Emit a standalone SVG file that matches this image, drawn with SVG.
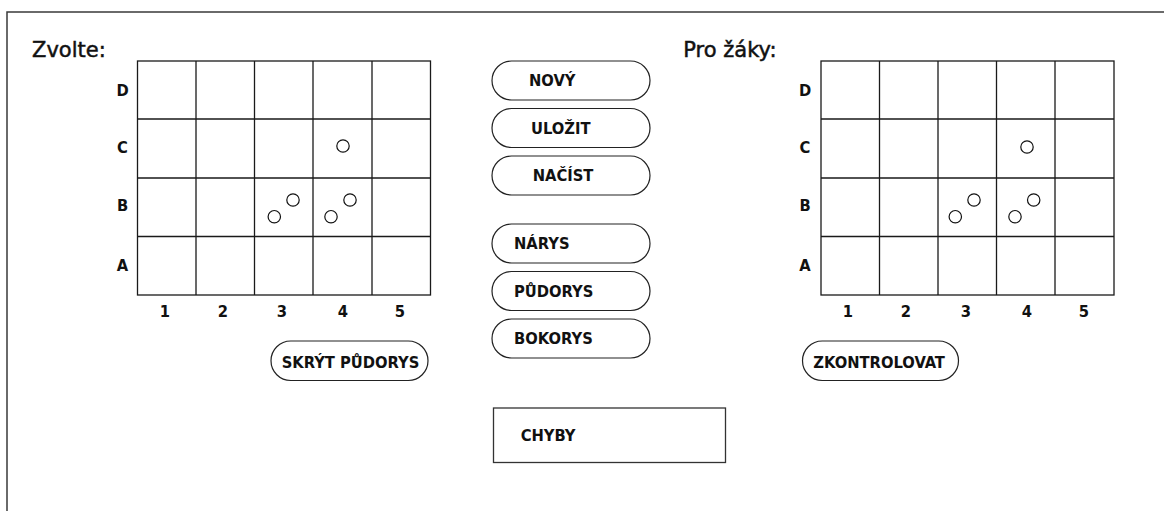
<svg xmlns="http://www.w3.org/2000/svg" width="1164" height="511" viewBox="0 0 1164 511">
<style>
.frame{fill:none;stroke:#3a3a3a;stroke-width:1.5}
.grid{fill:none;stroke:#1a1a1a;stroke-width:1.3}
.dot{fill:#fff;stroke:#111;stroke-width:1.2}
.pill{fill:#fff;stroke:#222;stroke-width:1.2}
.box{fill:#fff;stroke:#333;stroke-width:1.3}
.title{font-family:"DejaVu Sans",Verdana,sans-serif;font-size:21px;fill:#111;stroke:#111;stroke-width:0.5}
.lbl{font-family:"DejaVu Sans Condensed","DejaVu Sans",sans-serif;font-stretch:condensed;font-size:16.4px;font-weight:bold;fill:#111}
.ctr{text-anchor:middle}
</style>
<path class="frame" d="M7,520 V12 H1170"/>

<g id="left-panel">
<text class="title" x="32" y="57">Zvolte:</text>
<g id="left-grid">
<rect class="grid" x="137.5" y="61" width="293" height="234"/>
<path class="grid" d="M196,61V295M254.5,61V295M313,61V295M372,61V295M137.5,119H430.5M137.5,178H430.5M137.5,236.5H430.5"/>
</g>
<g id="left-rows" class="lbl ctr">
<text x="122.5" y="96">D</text>
<text x="122.5" y="153">C</text>
<text x="122.5" y="211">B</text>
<text x="122.5" y="271">A</text>
</g>
<g id="left-cols" class="lbl ctr">
<text x="165" y="316.5">1</text>
<text x="223" y="316.5">2</text>
<text x="282" y="316.5">3</text>
<text x="343" y="316.5">4</text>
<text x="400" y="316.5">5</text>
</g>
<g id="left-dots">
<circle class="dot" cx="343" cy="146" r="6.2"/>
<circle class="dot" cx="274.3" cy="216.7" r="6.2"/>
<circle class="dot" cx="293" cy="200" r="6.2"/>
<circle class="dot" cx="331" cy="216.7" r="6.2"/>
<circle class="dot" cx="350" cy="200" r="6.2"/>
</g>
<g id="btn-skryt">
<rect class="pill" x="271" y="341" width="157" height="39.5" rx="19.75"/>
<text class="lbl" x="281.7" y="368">SKRÝT PŮDORYS</text>
</g>
</g>

<g id="middle-panel">
<g id="btn-novy"><rect class="pill" x="492" y="61" width="158" height="39" rx="19.5"/><text class="lbl" x="529" y="86">NOVÝ</text></g>
<g id="btn-ulozit"><rect class="pill" x="492" y="108.5" width="158" height="39" rx="19.5"/><text class="lbl" x="531" y="133.5">ULOŽIT</text></g>
<g id="btn-nacist"><rect class="pill" x="492" y="156" width="158" height="39" rx="19.5"/><text class="lbl" x="532.7" y="181">NAČÍST</text></g>
<g id="btn-narys"><rect class="pill" x="492" y="224" width="158" height="39" rx="19.5"/><text class="lbl" x="514" y="249">NÁRYS</text></g>
<g id="btn-pudorys"><rect class="pill" x="492" y="271.5" width="158" height="39" rx="19.5"/><text class="lbl" x="514" y="296.5">PŮDORYS</text></g>
<g id="btn-bokorys"><rect class="pill" x="492" y="319" width="158" height="39" rx="19.5"/><text class="lbl" x="514" y="344">BOKORYS</text></g>
<g id="chyby"><rect class="box" x="493.5" y="408" width="232" height="54.5"/><text class="lbl" x="520.7" y="441">CHYBY</text></g>
</g>

<g id="right-panel">
<text class="title" x="683.3" y="56.7">Pro žáky:</text>
<g id="right-grid">
<rect class="grid" x="821" y="61" width="293" height="234"/>
<path class="grid" d="M879.5,61V295M938,61V295M996.5,61V295M1055,61V295M821,119H1114M821,178H1114M821,236.5H1114"/>
</g>
<g id="right-rows" class="lbl ctr">
<text x="805" y="96">D</text>
<text x="805" y="153">C</text>
<text x="805" y="211">B</text>
<text x="805" y="271">A</text>
</g>
<g id="right-cols" class="lbl ctr">
<text x="848" y="316.5">1</text>
<text x="906" y="316.5">2</text>
<text x="966" y="316.5">3</text>
<text x="1027" y="316.5">4</text>
<text x="1084" y="316.5">5</text>
</g>
<g id="right-dots">
<circle class="dot" cx="1027" cy="147" r="6.2"/>
<circle class="dot" cx="955.3" cy="216.7" r="6.2"/>
<circle class="dot" cx="974" cy="200" r="6.2"/>
<circle class="dot" cx="1015" cy="216.7" r="6.2"/>
<circle class="dot" cx="1033.7" cy="200" r="6.2"/>
</g>
<g id="btn-zkontrolovat">
<rect class="pill" x="802.5" y="341" width="156" height="39.5" rx="19.75"/>
<text class="lbl" x="813.3" y="367.5">ZKONTROLOVAT</text>
</g>
</g>
</svg>
